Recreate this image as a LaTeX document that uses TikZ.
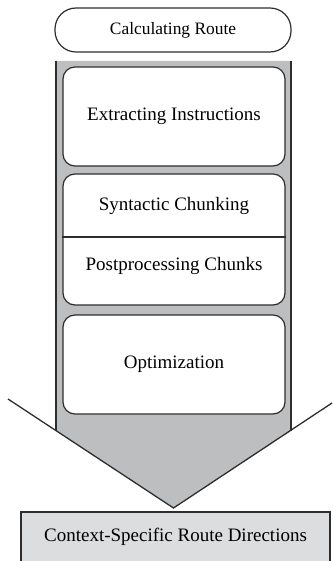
\documentclass[tikz,border=0pt]{standalone}
\usepackage{fontspec}
\setmainfont{Liberation Serif}
\definecolor{shaftgray}{RGB}{189,190,192}
\definecolor{boxgray}{RGB}{220,221,223}
\definecolor{edge}{RGB}{45,45,45}
\begin{document}
\begin{tikzpicture}[x=1pt,y=-1pt,
  stagebox/.style={draw=edge,line width=1.2pt,fill=white,rounded corners=12pt,minimum width=222pt,inner sep=0pt},
  pillbox/.style={draw=edge,line width=1.2pt,fill=white,rounded corners=21pt,minimum width=236pt,minimum height=44pt,inner sep=0pt,font=\fontsize{17.4}{20}\selectfont},
  txt/.style={font=\fontsize{19}{22}\selectfont,inner sep=0pt},
  sideline/.style={draw=edge,line width=2.4pt},
  wingline/.style={draw=edge,line width=1.3pt},
  outbox/.style={draw=edge,line width=1.3pt,fill=boxgray,minimum width=309pt,minimum height=60pt,inner sep=0pt}]
\useasboundingbox (0,0) rectangle (332,561);
% top pill
\node[pillbox] (calc) at (173,30) {Calculating Route};
% arrow shaft and head
\coordinate (sl) at (56,61);
\coordinate (sr) at (291,61);
\coordinate (bl) at (56,430.6);
\coordinate (br) at (291,430.6);
\coordinate (tip) at (173.5,508);
\coordinate (wl) at (8,399);
\coordinate (wr) at (332,403);
\fill[shaftgray] (sl) -- (bl) -- (tip) -- (br) -- (sr) -- cycle;
\draw[sideline] (sl) -- (bl);
\draw[sideline] (sr) -- (br);
\draw[wingline,line join=miter] (wl) -- (tip) -- (wr);
% stage boxes
\node[stagebox,minimum height=99pt] (extract) at (174,116.5) {};
\node[txt] at (extract.center) {Extracting Instructions};
\node[stagebox,minimum height=131pt] (chunk) at (174,239.5) {};
\coordinate (dl) at (chunk.west |- 0,237);
\coordinate (dr) at (chunk.east |- 0,237);
\draw[draw=edge,line width=1.2pt] (dl) -- (dr);
\node[txt] (syn) at (174,206) {Syntactic Chunking};
\node[txt] (post) at (174,266) {Postprocessing Chunks};
\node[stagebox,minimum height=99pt] (opt) at (174,364.5) {};
\node[txt] at (opt.center) {Optimization};
% output box
\node[outbox] (out) at (175.5,542) {};
\node[txt] at (175.5,537) {Context-Specific Route Directions};
\end{tikzpicture}
\end{document}
